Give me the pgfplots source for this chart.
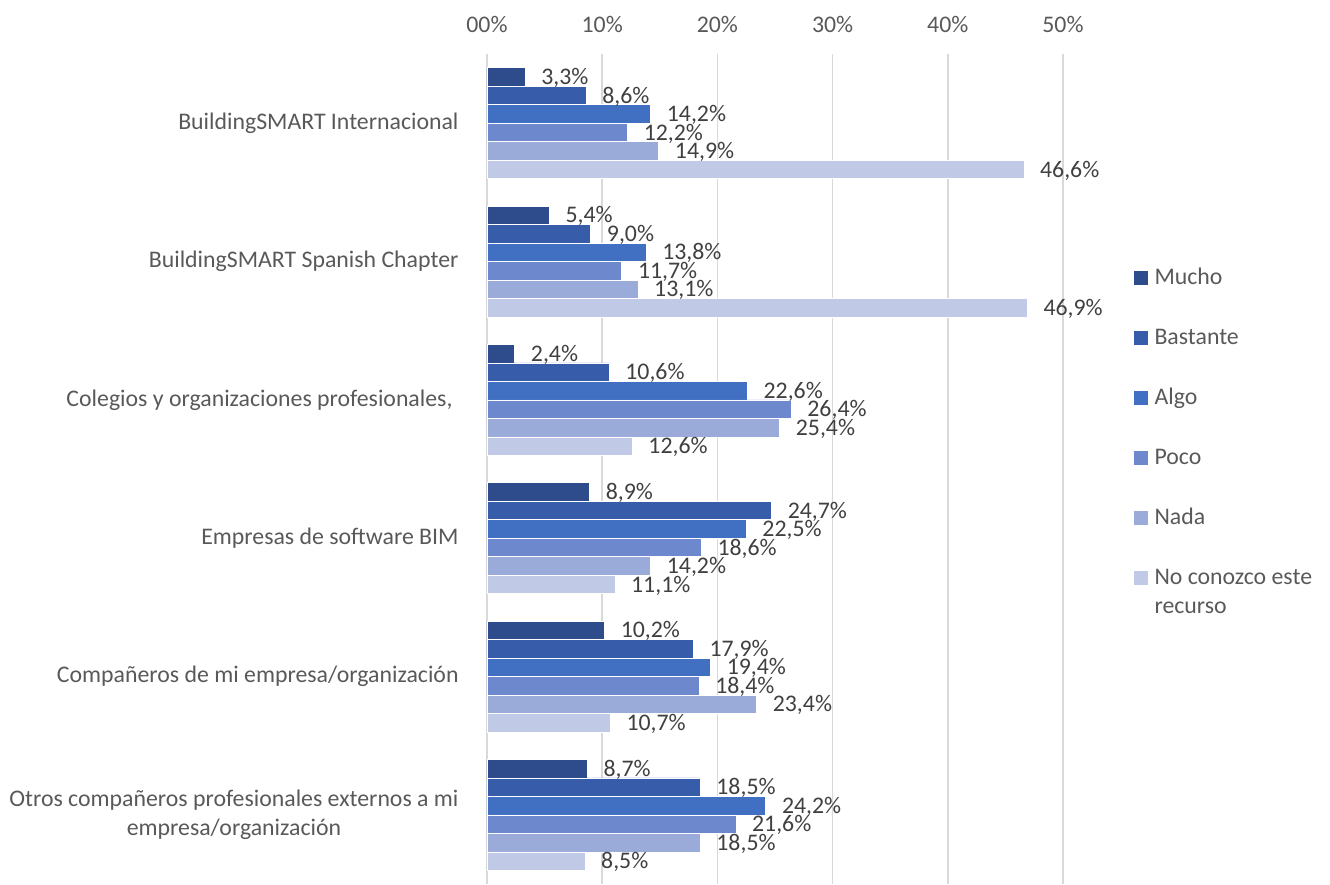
\documentclass[border=0pt]{standalone}
\usepackage{pgfplots}
\pgfplotsset{compat=1.18}
\usepackage{pgfplotstable}
\usepackage{fontspec}
\setmainfont{Carlito}
\definecolor{cMucho}{HTML}{2E4B8B}
\definecolor{cBastante}{HTML}{375CAA}
\definecolor{cAlgo}{HTML}{4170C2}
\definecolor{cPoco}{HTML}{6D88CC}
\definecolor{cNada}{HTML}{9BABD9}
\definecolor{cNo}{HTML}{C0C9E6}
\definecolor{gridgray}{HTML}{D9D9D9}
\definecolor{tickgray}{HTML}{595959}
\definecolor{labelgray}{HTML}{404040}
\pgfplotstableread{
y mucho bastante algo poco nada nocon
0 3.3 8.6 14.2 12.2 14.9 46.6
1 5.4 9.0 13.8 11.7 13.1 46.9
2 2.4 10.6 22.6 26.4 25.4 12.6
3 8.9 24.7 22.5 18.6 14.2 11.1
4 10.2 17.9 19.4 18.4 23.4 10.7
5 8.7 18.5 24.2 21.6 18.5 8.5
}\data
\newcommand{\bigf}{\fontsize{23.8}{28.8}\selectfont}
\begin{document}
\bigf
\begin{tikzpicture}
\path[use as bounding box] (-487pt,0pt) rectangle (843pt,884pt);
\begin{axis}[
  at={(0pt,0pt)}, anchor=south west,
  scale only axis, width=576pt, height=830pt,
  xbar, bar width=18.5pt,
  xmin=0, xmax=50,
  ymin=-0.5, ymax=5.5, y dir=reverse,
  xtick={0,10,...,50}, xticklabels={00\%,10\%,20\%,30\%,40\%,50\%},
  xticklabel pos=upper,
  ytick={0,...,5},
  yticklabels={BuildingSMART Internacional, BuildingSMART Spanish Chapter, {Colegios y organizaciones profesionales,\kern6pt}, Empresas de software BIM, Compañeros de mi empresa/organización, {Otros compañeros profesionales externos a mi\\empresa/organización}},
  xmajorgrids, major grid style={color=gridgray, line width=1.6pt},
  axis line style={draw=none},
  tick style={draw=none},
  clip=false,
  every axis plot/.append style={draw=white, line width=0.6pt},
  xticklabel style={font=\bigf, text=tickgray, inner sep=0pt, yshift=21pt},
  yticklabel style={font=\bigf, text=tickgray, align=center, inner sep=0pt, xshift=-24pt},
  point meta=x,
  nodes near coords={\pgfmathprintnumber[fixed,fixed zerofill,precision=1,use comma,assume math mode=true]{\pgfplotspointmeta}\%},
  every node near coord/.append style={anchor=west, inner sep=0pt, xshift=16pt, yshift=-1pt, font=\bigf, text=labelgray},
  legend image code/.code={\fill[#1,draw=none] (0pt,0pt) rectangle (13.5pt,13.5pt);},
  legend style={at={(1.1233,0.7426)}, anchor=north west, draw=none, fill=none, inner sep=0pt, outer sep=0pt,
    font=\bigf, text=tickgray, row sep=37pt, column sep=7pt,
    cells={anchor=base west},
    nodes={inner sep=0pt, text height=17pt, text depth=6pt}},
]
\addplot[fill=cMucho, bar shift=46.25pt] table[x=mucho,y=y] {\data};
\addlegendentry{Mucho}
\addplot[fill=cBastante, bar shift=27.75pt] table[x=bastante,y=y] {\data};
\addlegendentry{Bastante}
\addplot[fill=cAlgo, bar shift=9.25pt] table[x=algo,y=y] {\data};
\addlegendentry{Algo}
\addplot[fill=cPoco, bar shift=-9.25pt] table[x=poco,y=y] {\data};
\addlegendentry{Poco}
\addplot[fill=cNada, bar shift=-27.75pt] table[x=nada,y=y] {\data};
\addlegendentry{Nada}
\addplot[fill=cNo, bar shift=-46.25pt] table[x=nocon,y=y] {\data};
\addlegendentry{\begin{tabular}[t]{@{}l@{}}No conozco este\\recurso\end{tabular}}
\end{axis}
\end{tikzpicture}
\end{document}
